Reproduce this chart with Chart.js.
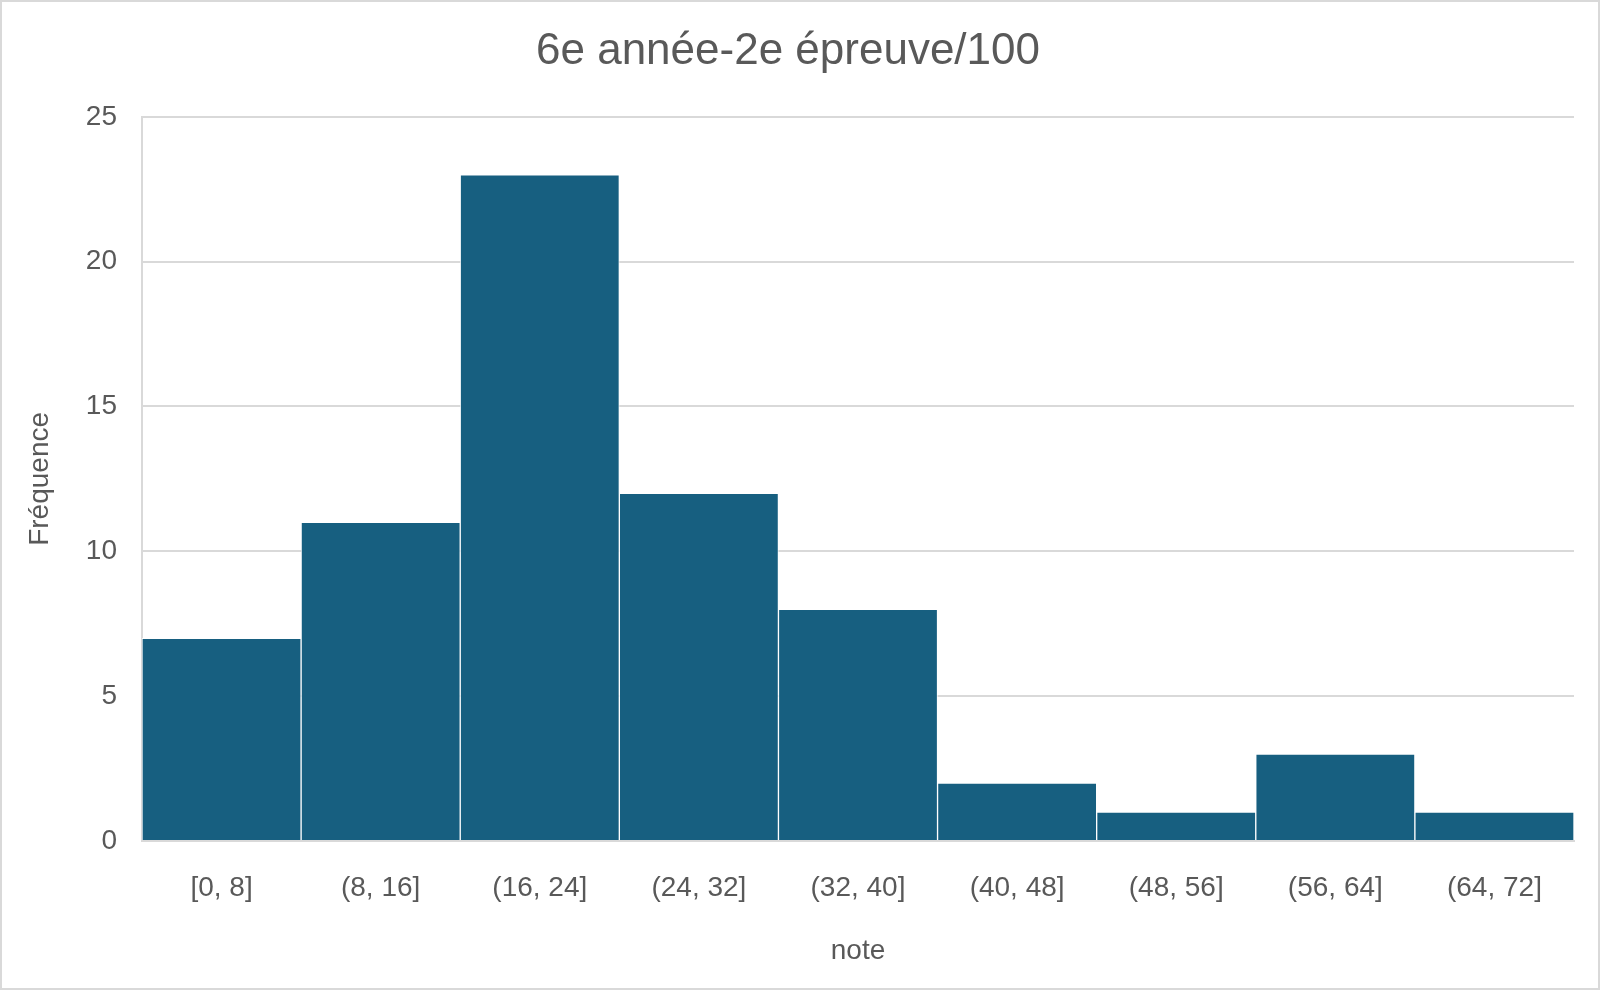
<!DOCTYPE html>
<html>
<head>
<meta charset="utf-8">
<script src="https://cdn.jsdelivr.net/npm/chart.js@4/dist/chart.umd.min.js"></script>
<style>
  html, body { margin: 0; padding: 0; background: #fff; }
  #wrap { width: 1600px; height: 990px; box-sizing: border-box; border: 2px solid #d9d9d9; background: #fff; }
  canvas { display: block; }
</style>
</head>
<body>
<div id="wrap"><canvas id="hist" width="1596" height="986"></canvas></div>
<script>
// histogram bins and counts
const bins = ['[0, 8]', '(8, 16]', '(16, 24]', '(24, 32]', '(32, 40]', '(40, 48]', '(48, 56]', '(56, 64]', '(64, 72]'];
const counts = [7, 11, 23, 12, 8, 2, 1, 3, 1];
const yTicks = [0, 5, 10, 15, 20, 25];

const textColor = '#595959';
const gridColor = '#d9d9d9';
const fontFamily = '"Liberation Sans", Arial, sans-serif';

new Chart(document.getElementById('hist').getContext('2d'), {
  type: 'bar',
  data: {
    labels: bins,
    datasets: [{
      label: 'Fréquence',
      data: counts,
      backgroundColor: '#175f80',
      borderColor: 'rgba(255,255,255,0.75)',
      borderWidth: 1,
      categoryPercentage: 1,
      barPercentage: 1
    }]
  },
  options: {
    responsive: false,
    devicePixelRatio: 1,
    animation: false,
    layout: { padding: { left: 0, right: 24, top: 0, bottom: 0 } },
    plugins: {
      legend: { display: false },
      tooltip: { enabled: false },
      title: {
        display: true,
        text: '6e année-2e épreuve/100',
        color: textColor,
        font: { family: fontFamily, size: 44, weight: 'normal' },
        padding: { top: 23, bottom: 39 }
      }
    },
    scales: {
      x: {
        grid: { display: false, drawTicks: false },
        border: { display: true, color: gridColor, width: 2 },
        ticks: { color: textColor, font: { family: fontFamily, size: 28 }, padding: 30, maxRotation: 0 },
        title: {
          display: true, text: 'note', color: textColor,
          font: { family: fontFamily, size: 28 }, padding: { top: 0, bottom: 20 }
        },
        afterFit: s => { s.height = 147; }
      },
      y: {
        min: 0,
        max: 25,
        afterBuildTicks: s => { s.ticks = yTicks.map(v => ({ value: v })); },
        grid: { color: gridColor, lineWidth: 2, drawTicks: false },
        border: { display: true, color: gridColor, width: 2 },
        ticks: { color: textColor, font: { family: fontFamily, size: 28 }, padding: 25 },
        title: {
          display: true, text: 'Fréquence', color: textColor,
          font: { family: fontFamily, size: 28 }, padding: { top: 21, bottom: 0 }
        },
        afterFit: s => { s.width = 140; }
      }
    }
  }
});
</script>
</body>
</html>
